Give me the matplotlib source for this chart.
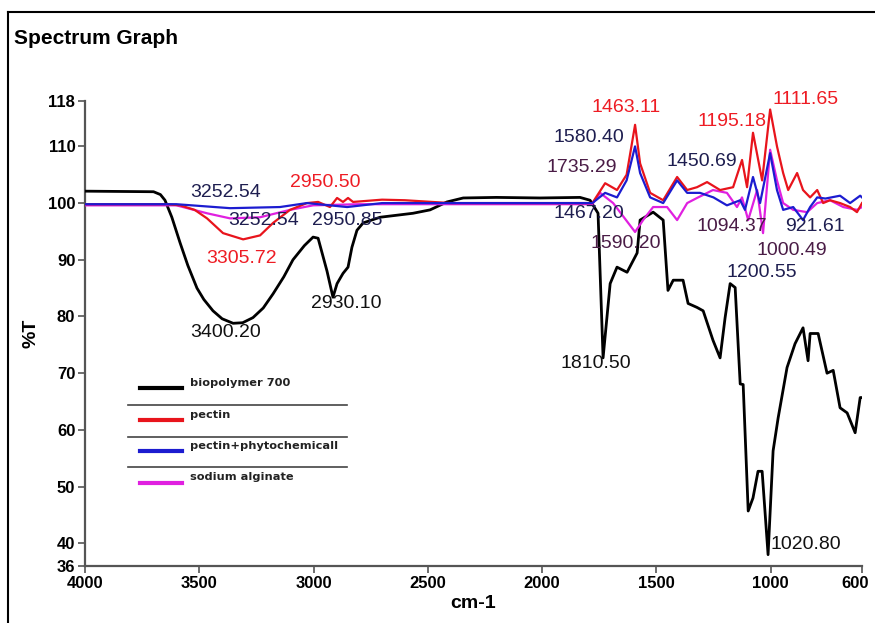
import matplotlib.pyplot as plt
from matplotlib.lines import Line2D
import matplotlib.transforms as mtransforms
import numpy as np

# ---- data (wavenumber cm-1, %T) ----
bio_w = [4000, 3700, 3670, 3650, 3620, 3584, 3550, 3510, 3480, 3440, 3400, 3352, 3310, 3265,
         3220, 3177, 3130, 3090, 3040, 3002, 2980, 2941, 2915,
         2897, 2871, 2849, 2832, 2810, 2783, 2709, 2565, 2490, 2416, 2345, 2200, 2009, 1834,
         1790, 1755, 1733, 1702, 1672, 1628, 1584, 1571, 1514, 1470, 1449, 1426, 1383, 1361,
         1322, 1295, 1252, 1221, 1199, 1177, 1155, 1133, 1120, 1098, 1077, 1055, 1037, 1011,
         989, 967, 928, 893, 858, 836, 827, 792, 753, 726, 696, 665, 630, 608, 600]
bio_t = [102.1, 102.0, 101.5, 100.5, 97.5, 93.0, 89.0, 85.0, 83.0, 81.0, 79.6, 78.8, 78.9, 79.8,
         81.5, 84.0, 87.0, 90.0, 92.5, 94.0, 93.8, 88.0, 83.4,
         85.8, 87.6, 88.7, 92.2, 95.2, 96.5, 97.5, 98.2, 98.8, 100.2, 100.9, 101.0, 100.9, 101.0,
         100.5, 98.2, 72.7, 85.8, 88.7, 87.8, 91.2, 97.0, 98.4, 97.0, 84.6, 86.4, 86.4, 82.3,
         81.6, 81.0, 75.8, 72.7, 79.8, 85.8, 85.1, 68.1, 68.0, 45.7, 48.0, 52.7, 52.7, 38.0,
         56.3, 62.1, 71.0, 75.2, 78.0, 72.2, 77.0, 77.0, 70.0, 70.5, 63.9, 63.0, 59.5, 65.7, 65.7]

pec_w = [4000, 3641, 3584, 3520, 3466, 3396, 3308, 3234, 3177, 3103, 3029, 2980, 2928, 2897, 2871,
         2849, 2827, 2700, 2600, 2400, 2000, 1780, 1724, 1672, 1630, 1593, 1571, 1527, 1470,
         1409, 1365, 1322, 1278, 1221, 1164, 1125, 1103, 1077, 1037, 1002, 972, 945, 923, 884,
         858, 827, 796, 770, 740, 696, 652, 622, 600]
pec_t = [99.8, 99.8, 99.6, 98.8, 97.3, 94.7, 93.6, 94.3, 96.5, 98.8, 100.0, 100.2, 99.3, 100.9, 100.2,
         100.9, 100.2, 100.6, 100.5, 100.0, 100.0, 100.0, 103.5, 102.3, 105.0, 113.8, 107.0, 101.8, 100.5,
         104.6, 102.3, 102.8, 103.7, 102.3, 102.8, 107.6, 102.8, 112.4, 104.0, 116.5, 110.0, 105.3, 102.3, 105.3,
         102.3, 101.0, 102.3, 100.0, 100.5, 100.0, 99.3, 98.4, 100.0]

phy_w = [4000, 3600, 3365, 3147, 3029, 2853, 2700, 2000, 1780, 1724, 1672, 1630, 1593, 1571,
         1527, 1470, 1409, 1365, 1309, 1250, 1191, 1133, 1112, 1077, 1046, 1002, 972, 945, 901,
         858, 827, 796, 760, 696, 652, 608, 600]
phy_t = [99.8, 99.8, 99.1, 99.3, 100.0, 99.3, 100.0, 100.0, 100.0, 101.8, 101.0, 104.0, 110.0, 105.3,
         101.0, 100.0, 104.0, 101.8, 101.8, 101.0, 99.6, 100.5, 98.8, 104.6, 100.0, 108.8, 102.3, 98.8, 99.3,
         97.0, 99.3, 101.0, 100.8, 101.3, 100.0, 101.3, 101.0]

alg_w = [4000, 3600, 3466, 3365, 3234, 3103, 3002, 2800, 2000, 1780, 1746, 1689, 1593, 1558,
         1514, 1453, 1409, 1365, 1322, 1252, 1191, 1147, 1125, 1098, 1059, 1033, 1002, 972,
         945, 901, 840, 796, 740, 682, 622, 600]
alg_t = [99.6, 99.6, 98.2, 97.3, 97.5, 98.8, 99.6, 99.8, 99.8, 99.8, 101.8, 100.0, 94.9, 97.0,
         99.3, 99.3, 97.0, 100.0, 100.9, 102.3, 101.8, 99.3, 101.0, 97.0, 102.3, 94.7, 109.4, 104.0,
         100.0, 98.8, 98.4, 100.0, 100.5, 99.3, 98.8, 99.3]

series_names = ["biopolymer 700", "pectin", "pectin+phytochemicall", "sodium alginate"]
series_colors = ["black", "#e8141c", "#1c1cd0", "#e020e0"]

# peak labels: text, wavenumber, %T, colour
peak_text = ["3252.54", "2950.50", "3252.54", "2950.85", "3305.72", "2930.10", "3400.20",
             "1463.11", "1580.40", "1735.29", "1450.69", "1195.18", "1111.65", "1467.20",
             "1590.20", "1094.37", "921.61", "1000.49", "1200.55", "1810.50", "1020.80"]
peak_w = [3383, 2950, 3217, 2853, 3317, 2858, 3383,
          1632, 1794, 1825, 1300, 1169, 845, 1794,
          1632, 1169, 805, 906, 1037, 1764, 845]
peak_t = [101.9, 103.7, 97.0, 97.0, 90.3, 82.3, 77.2,
          116.8, 111.5, 106.2, 107.3, 114.3, 118.2, 98.2,
          92.9, 95.8, 95.8, 91.7, 87.8, 71.7, 39.8]
navy = "#1e1e50"
purp = "#4a1c46"
red = "#ee1c24"
peak_c = [navy, red, navy, navy, red, "#111111", "#111111",
          red, navy, purp, navy, red, red, navy,
          purp, purp, navy, purp, navy, "#111111", "#111111"]

bold_font = ['Liberation Sans', 'DejaVu Sans']

fig = plt.figure(figsize=(8.75, 6.23), dpi=100)
ax = fig.add_axes([85 / 875, 1 - 566 / 623, 777 / 875, 465 / 623])

ax.plot(bio_w, bio_t, color=series_colors[0], lw=2.0, zorder=3)
ax.plot(alg_w, alg_t, color=series_colors[3], lw=1.6, zorder=4)
ax.plot(pec_w, pec_t, color=series_colors[1], lw=1.6, zorder=5)
ax.plot(phy_w, phy_t, color=series_colors[2], lw=1.6, zorder=6)

ax.set_xlim(4000, 600)
ax.set_ylim(36, 118)
ax.set_xticks([4000, 3500, 3000, 2500, 2000, 1500, 1000, 600])
ax.set_yticks([36, 40, 50, 60, 70, 80, 90, 100, 110, 118])
for s in ['top', 'right']:
    ax.spines[s].set_visible(False)
for s in ['left', 'bottom']:
    ax.spines[s].set_color('#555555')
    ax.spines[s].set_linewidth(1.6)
ax.tick_params(axis='both', color='#555555', width=1.2, length=5, direction='out', pad=2)
for lab in ax.get_xticklabels() + ax.get_yticklabels():
    lab.set_family(bold_font)
    lab.set_weight('bold')
    lab.set_fontsize(12)
# last x label sits at the very edge of the picture: nudge it in a little
last = ax.get_xticklabels()[-1]
last.set_transform(last.get_transform() + mtransforms.ScaledTranslation(-7 / 100, 0, fig.dpi_scale_trans))

ax.set_xlabel("cm-1", family=bold_font, weight='bold', fontsize=14, labelpad=3)
ax.set_ylabel("%T", family=bold_font, weight='bold', fontsize=14, labelpad=6)

for t, w, v, c in zip(peak_text, peak_w, peak_t, peak_c):
    ax.text(w, v, t, color=c, fontsize=14, family=['Liberation Sans', 'DejaVu Sans'],
            ha='center', va='center', zorder=8)

# legend drawn by hand, like the original (lines separated by rules)
row_y = [388, 420, 451, 483]
txt_y = [383, 415, 446, 477]
sep_y = [405, 437, 467]
for name, col, ly, ty in zip(series_names, series_colors, row_y, txt_y):
    fig.add_artist(Line2D([140 / 875, 182 / 875], [1 - ly / 623, 1 - ly / 623], color=col, lw=3))
    fig.text(190 / 875, 1 - ty / 623, name, fontsize=8.2, weight='bold', va='center',
             family='DejaVu Sans', color='#222222')
for sy in sep_y:
    fig.add_artist(Line2D([128 / 875, 347 / 875], [1 - sy / 623, 1 - sy / 623], color='#444444', lw=1.2))

# outer frame (left and top edges visible)
fig.add_artist(Line2D([8 / 875, 8 / 875], [0, 1 - 12 / 623], color='black', lw=1.5))
fig.add_artist(Line2D([8 / 875, 1], [1 - 12 / 623, 1 - 12 / 623], color='black', lw=1.5))

fig.text(14 / 875, 1 - 38 / 623, "Spectrum Graph", fontsize=15, weight='bold',
         family=bold_font, va='center', ha='left')

plt.savefig("out.png", dpi=100)
